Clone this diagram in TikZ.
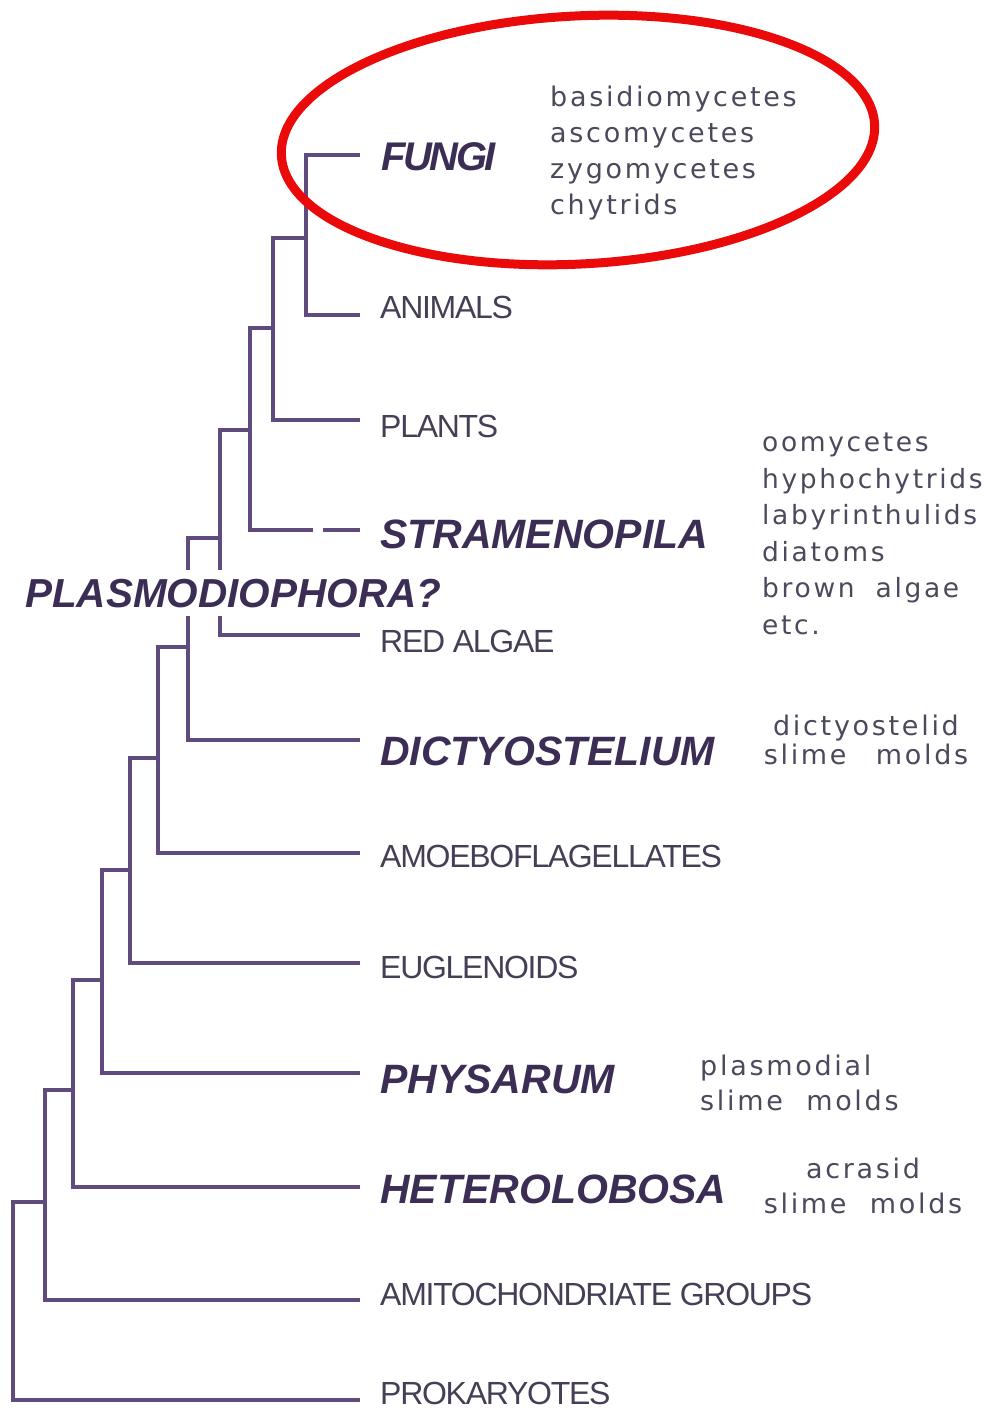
\documentclass[tikz,border=0pt]{standalone}
\usepackage{fontspec}
\setmainfont{Liberation Sans}
\newfontfamily\taxfont[LetterSpace=-4]{Liberation Sans}
\newfontfamily\notefont[LetterSpace=10]{DejaVu Sans}
\definecolor{treeline}{RGB}{95,75,125}
\definecolor{groupdark}{RGB}{60,45,85}
\definecolor{taxgray}{RGB}{70,62,85}
\definecolor{notegray}{RGB}{78,72,92}
\definecolor{ringred}{RGB}{235,10,10}
\begin{document}
\begin{tikzpicture}[x=1pt, y=-1pt, line join=miter,
  branch/.style={draw=treeline, line width=4.5pt},
  taxon/.style={anchor=base west, inner sep=0pt, text=taxgray, font=\taxfont\fontsize{32}{32}\selectfont},
  group/.style={anchor=base west, inner sep=0pt, text=groupdark, font=\fontsize{41}{41}\selectfont\bfseries\itshape},
  note/.style={inner sep=0pt, text=notegray, font=\notefont\fontsize{27}{36}\selectfont}]
\useasboundingbox (0,0) rectangle (986,1410);
% ends of the leaf branches
\path
(360,155) coordinate (fungi-e)
(360,315) coordinate (animals-e)
(360,420) coordinate (plants-e)
(360,530) coordinate (stram-e)
(360,635) coordinate (redalgae-e)
(360,740) coordinate (dicty-e)
(360,853) coordinate (amoebo-e)
(360,963) coordinate (eugl-e)
(360,1073) coordinate (physarum-e)
(360,1187) coordinate (hetero-e)
(360,1300) coordinate (amito-e)
(360,1400) coordinate (prok-e)
;
% branching points
\path
(306,238) coordinate (n1)
(273,328) coordinate (n2)
(250,430) coordinate (n3)
(220,538) coordinate (n4)
(188,647) coordinate (n5)
(158,758) coordinate (n6)
(130,870) coordinate (n7)
(102,980) coordinate (n8)
(73,1090) coordinate (n9)
(45,1202) coordinate (n10)
(13,1202) coordinate (n11)
;
\draw[branch] (fungi-e) -| (n1) |- (animals-e);
\foreach \p/\q/\l in {n1/n2/plants-e, n2/n3/stram-e, n3/n4/redalgae-e, n4/n5/dicty-e,
  n5/n6/amoebo-e, n6/n7/eugl-e, n7/n8/physarum-e, n8/n9/hetero-e, n9/n10/amito-e, n10/n11/prok-e}
  \draw[branch] (\p) -| (\q) |- (\l);
\draw[white, line width=6pt] (313,530) -- (323,530);
% labels
\node[group, font=\fontsize{40}{40}\selectfont\bfseries\itshape] (fungi) at (381,170) {\addfontfeature{LetterSpace=-6}FUNGI};
\node[taxon] (animals) at (380,318) {ANIMALS};
\node[taxon] (plants) at (380,437) {PLANTS};
\node[group] (stram) at (380,548) {STRAMENOPILA};
\node[group, fill=white, inner xsep=2pt, inner ysep=9pt, font=\fontsize{40.5}{40.5}\selectfont\bfseries\itshape] (plasmo) at (23,607) {PLASMODIOPHORA?};
\node[taxon] (redalgae) at (380,652) {RED ALGAE};
\node[group] (dicty) at (380,765) {DICTYOSTELIUM};
\node[taxon] (amoebo) at (380,867) {AMOEBOFLAGELLATES};
\node[taxon] (eugl) at (380,978) {EUGLENOIDS};
\node[group] (physarum) at (380,1093) {PHYSARUM};
\node[group] (hetero) at (380,1203) {HETEROLOBOSA};
\node[taxon] (amito) at (380,1305) {AMITOCHONDRIATE GROUPS};
\node[taxon] (prok) at (380,1404) {PROKARYOTES};
% side notes
\node[note, anchor=north west, align=left] (fungi-n) at (550,86) {basidiomycetes\\ascomycetes\\zygomycetes\\chytrids};
\node[note, anchor=north west, align=left, font=\notefont\fontsize{26.5}{36.5}\selectfont] (stram-n) at (762,433) {oomycetes\\hyphochytrids\\labyrinthulids\\diatoms\\brown\hspace{10pt} algae\\etc.};
\node[note, anchor=north, align=center, font=\notefont\fontsize{27}{29}\selectfont] (dicty-n) at (866,715) {dictyostelid\\slime\hspace{18pt} molds};
\node[note, anchor=north west, align=left, font=\notefont\fontsize{27}{35}\selectfont] (physarum-n) at (700,1055) {plasmodial\\slime\hspace{12pt} molds};
\node[note, anchor=north, align=center, font=\notefont\fontsize{27}{35}\selectfont] (hetero-n) at (863,1158) {acrasid\\slime\hspace{12pt} molds};
% ring round the fungi
\draw[ringred, line width=9pt, rotate around={3:(578,140)}] (578,140) ellipse [x radius=297, y radius=124];
\end{tikzpicture}
\end{document}
